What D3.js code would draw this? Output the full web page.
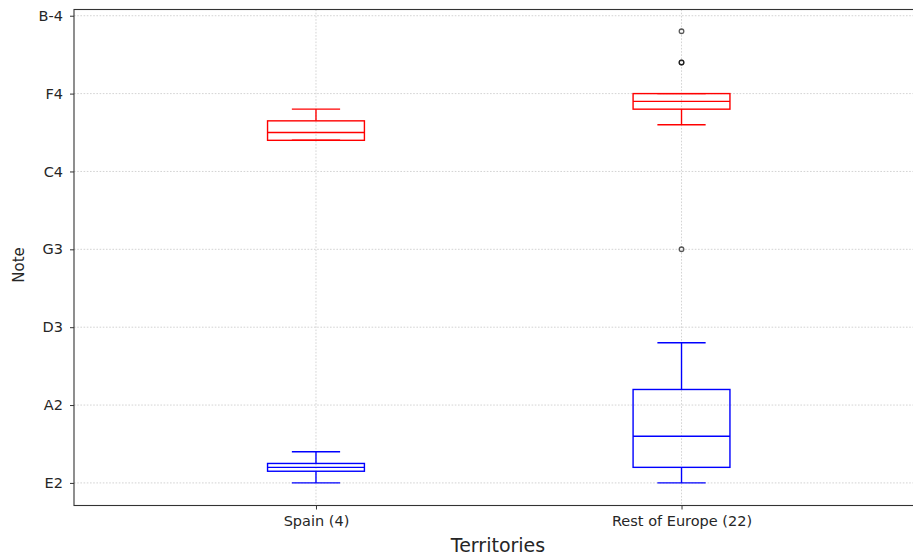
<!DOCTYPE html>
<html>
<head>
<meta charset="utf-8">
<script src="https://cdn.jsdelivr.net/npm/d3@7"></script>
<style>
  html, body { margin: 0; padding: 0; background: #fff; }
  svg { display: block; font-family: "DejaVu Sans", sans-serif; }
</style>
</head>
<body>
<svg id="chart" width="913" height="555"></svg>
<script>
// Territories on the x axis
const categories = ["Spain (4)", "Rest of Europe (22)"];

// Note ticks (MIDI numbers) and their names
const tickValues = [40, 45, 50, 55, 60, 65, 70];
const tickLabels = ["E2", "A2", "D3", "G3", "C4", "F4", "B-4"];

// Highest voice: box summaries per territory (MIDI numbers)
const highWhiskerLow  = [62, 63];
const highQ1          = [62, 64];
const highMedian      = [62.5, 64.5];
const highQ3          = [63.25, 65];
const highWhiskerHigh = [64, 65];
const highOutliers    = [[], [69, 67, 67, 55]];

// Lowest voice: box summaries per territory (MIDI numbers)
const lowWhiskerLow  = [40, 40];
const lowQ1          = [40.75, 41];
const lowMedian      = [41, 43];
const lowQ3          = [41.25, 46];
const lowWhiskerHigh = [42, 49];
const lowOutliers    = [[], []];

const series = [
  { color: "#ff0000", wl: highWhiskerLow, q1: highQ1, med: highMedian, q3: highQ3, wh: highWhiskerHigh, out: highOutliers },
  { color: "#0000ff", wl: lowWhiskerLow, q1: lowQ1, med: lowMedian, q3: lowQ3, wh: lowWhiskerHigh, out: lowOutliers }
];

const svg = d3.select("#chart");
const plotLeft = 74, plotRight = 923.5, plotTop = 9.5, plotBottom = 505.5;

const x = d3.scaleLinear().domain([0.338, 2.662]).range([plotLeft, plotRight]);
const y = d3.scaleLinear().domain([38.55, 70.4]).range([plotBottom, plotTop]);

const boxHalf = 0.1325, capHalf = 0.066;
const textColor = "#262626";

// grid
const grid = svg.append("g").attr("stroke", "#c8c8c8").attr("stroke-width", 0.8).attr("stroke-dasharray", "1.6,1.6");
tickValues.forEach(v => {
  grid.append("line").attr("x1", plotLeft).attr("x2", plotRight).attr("y1", y(v)).attr("y2", y(v));
});
categories.forEach((c, i) => {
  grid.append("line").attr("x1", x(i + 1)).attr("x2", x(i + 1)).attr("y1", plotTop).attr("y2", plotBottom);
});

// boxes
const boxes = svg.append("g").attr("fill", "none").attr("stroke-width", 1.4);
series.forEach(s => {
  categories.forEach((c, i) => {
    const p = i + 1, cx = x(p);
    const g = boxes.append("g").attr("stroke", s.color);
    g.append("rect")
      .attr("x", x(p - boxHalf)).attr("width", x(p + boxHalf) - x(p - boxHalf))
      .attr("y", y(s.q3[i])).attr("height", y(s.q1[i]) - y(s.q3[i]));
    g.append("line").attr("x1", x(p - boxHalf)).attr("x2", x(p + boxHalf))
      .attr("y1", y(s.med[i])).attr("y2", y(s.med[i]));
    // whiskers
    g.append("line").attr("x1", cx).attr("x2", cx).attr("y1", y(s.q3[i])).attr("y2", y(s.wh[i]));
    g.append("line").attr("x1", cx).attr("x2", cx).attr("y1", y(s.q1[i])).attr("y2", y(s.wl[i]));
    // caps
    g.append("line").attr("x1", x(p - capHalf)).attr("x2", x(p + capHalf))
      .attr("y1", y(s.wh[i])).attr("y2", y(s.wh[i]));
    g.append("line").attr("x1", x(p - capHalf)).attr("x2", x(p + capHalf))
      .attr("y1", y(s.wl[i])).attr("y2", y(s.wl[i]));
    // outliers
    s.out[i].forEach(v => {
      g.append("circle").attr("cx", cx).attr("cy", y(v)).attr("r", 2.3)
        .attr("stroke", "#000").attr("stroke-opacity", 0.65).attr("stroke-width", 1.3).attr("fill", "none");
    });
  });
});

// axes
const yAxis = d3.axisLeft(y).tickValues(tickValues).tickFormat((d, i) => tickLabels[i]).tickSize(4).tickPadding(7);
const yg = svg.append("g").attr("transform", `translate(${plotLeft},0)`).call(yAxis);
const xAxis = d3.axisBottom(x).tickValues([1, 2]).tickFormat((d, i) => categories[i]).tickSize(4).tickPadding(6);
const xg = svg.append("g").attr("transform", `translate(0,${plotBottom})`).call(xAxis);
[yg, xg].forEach(g => {
  g.select(".domain").remove();
  g.selectAll(".tick line").attr("stroke", "#333").attr("stroke-width", 1);
  g.selectAll(".tick text").attr("fill", textColor).style("font-size", "14.5px").style("font-family", "DejaVu Sans");
});

// spines (right side falls outside the view)
svg.append("rect").attr("x", plotLeft).attr("y", plotTop).attr("width", plotRight - plotLeft).attr("height", plotBottom - plotTop)
  .attr("fill", "none").attr("stroke", "#333").attr("stroke-width", 1.1);

// axis titles
svg.append("text").attr("x", 498).attr("y", 552).attr("text-anchor", "middle")
  .attr("fill", textColor).style("font-size", "19px").text("Territories");
svg.append("text").attr("transform", "translate(24,265) rotate(-90)").attr("text-anchor", "middle")
  .attr("fill", textColor).style("font-size", "15px").text("Note");
</script>
</body>
</html>
